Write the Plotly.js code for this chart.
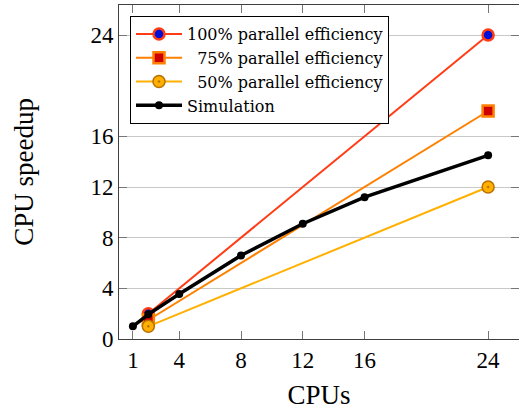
<!DOCTYPE html>
<html>
<head>
<meta charset="utf-8">
<script src="https://cdn.plot.ly/plotly-3.0.1.min.js"></script>
<style>
  html, body { margin: 0; padding: 0; background: #fff; }
  #chart { width: 519px; height: 410px; }
</style>
</head>
<body>
<div id="chart"></div>
<script>
// CPU counts and measured speedup of the simulation
const cpus = [1, 2, 4, 8, 12, 16, 24];
const simSpeedup = [1, 1.95, 3.55, 6.6, 9.1, 11.2, 14.5];

// Reference lines for ideal scaling at given parallel efficiencies
const idealCpus = [2, 24];
const eff100 = [2, 24];
const eff75 = [1.5, 18];
const eff50 = [1, 12];

const xTicks = [1, 4, 8, 12, 16, 24];
const yTicks = [0, 4, 8, 12, 16, 24];

// legend text keeps its leading spaces (white-space: pre) so the percentages line up
const seriesNames = [
  '100% parallel efficiency',
  '  75% parallel efficiency',
  '  50% parallel efficiency',
  'Simulation'
];

const serif = 'Liberation Serif';
const legendSerif = 'DejaVu Serif';

const traces = [
  {
    x: idealCpus, y: eff100, name: seriesNames[0], mode: 'lines+markers',
    line: { color: '#ff3c14', width: 2 },
    marker: { symbol: 'circle', size: 11, color: '#0010d8', line: { color: '#ff3c14', width: 2.5 } }
  },
  {
    x: idealCpus, y: eff75, name: seriesNames[1], mode: 'lines+markers',
    line: { color: '#ff8000', width: 2 },
    marker: { symbol: 'square', size: 11, color: '#cc0000', line: { color: '#ff8000', width: 2.5 } }
  },
  {
    x: idealCpus, y: eff50, name: seriesNames[2], mode: 'lines+markers',
    line: { color: '#ffb000', width: 2 },
    marker: { symbol: 'circle-dot', size: 12, color: '#ffb000', line: { color: '#b87000', width: 1.5 } }
  },
  {
    x: cpus, y: simSpeedup, name: seriesNames[3], mode: 'lines+markers',
    line: { color: '#000000', width: 3.5 },
    marker: { symbol: 'circle', size: 8, color: '#000000' }
  }
];

const layout = {
  width: 519, height: 410,
  margin: { l: 119, r: 0, t: 5, b: 71 },
  paper_bgcolor: '#ffffff', plot_bgcolor: '#ffffff',
  font: { family: serif, color: '#000000' },
  showlegend: true,
  xaxis: {
    range: [0.1, 26.0],
    tickmode: 'array', tickvals: xTicks, ticktext: xTicks.map(String),
    ticks: 'inside', ticklen: 8, tickcolor: '#777777', tickwidth: 1,
    showgrid: false, zeroline: false,
    showline: true, linecolor: '#404040', linewidth: 1, mirror: 'ticks',
    tickfont: { size: 23, family: serif },
    title: { text: 'CPUs', font: { size: 27, family: serif }, standoff: 15 }
  },
  yaxis: {
    range: [0, 26.37],
    tickmode: 'array', tickvals: yTicks, ticktext: yTicks.map(String),
    ticks: 'inside', ticklen: 8, tickcolor: '#777777', tickwidth: 1,
    showgrid: true, gridcolor: '#c8c8c8', gridwidth: 1, zeroline: false,
    showline: true, linecolor: '#404040', linewidth: 1, mirror: 'ticks',
    tickfont: { size: 23, family: serif },
    title: { text: 'CPU speedup', font: { size: 27, family: serif }, standoff: 48 }
  },
  legend: {
    x: 0.0275, y: 0.967, xanchor: 'left', yanchor: 'top',
    bgcolor: '#ffffff', bordercolor: '#000000', borderwidth: 1,
    font: { size: 16, family: legendSerif, color: '#000000' },
    itemwidth: 46, tracegroupgap: 0
  }
};

Plotly.newPlot('chart', traces, layout, { displayModeBar: false, staticPlot: true });
</script>
</body>
</html>
